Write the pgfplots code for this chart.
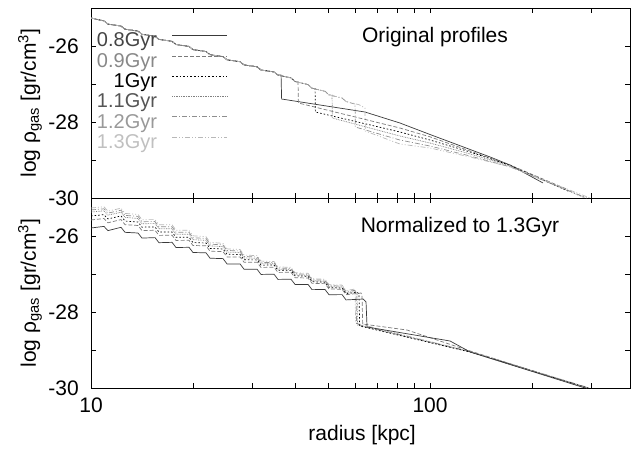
\documentclass[border=0pt]{standalone}
\usepackage{fontspec}
\setmainfont{Liberation Sans}
\usepackage{pgfplots}
\pgfplotsset{compat=1.18}
\newcommand{\fs}{\fontsize{21}{24}\selectfont}
\newcommand{\fl}{\fontsize{20}{23}\selectfont}
\definecolor{t08}{HTML}{444444}
\definecolor{t09}{HTML}{888888}
\definecolor{t11}{HTML}{555555}
\definecolor{t12}{HTML}{999999}
\definecolor{t13}{HTML}{C0C0C0}
\definecolor{l08}{HTML}{3A3A3A}
\definecolor{l09}{HTML}{7A7A7A}
\definecolor{l10}{HTML}{000000}
\definecolor{l11}{HTML}{808080}
\definecolor{l12}{HTML}{8E8E8E}
\definecolor{l13}{HTML}{B8B8B8}
\tikzset{
  s08/.style={color=l08, solid, line width=0.7pt},
  s09/.style={color=l09, dash pattern=on 4pt off 2pt, line width=0.7pt},
  s10/.style={color=l10, dash pattern=on 1.6pt off 2pt, line width=0.7pt},
  s11/.style={color=l11, dash pattern=on 0.8pt off 0.9pt, line width=0.7pt},
  s12/.style={color=l12, dash pattern=on 5pt off 2pt on 1pt off 2pt, line width=0.7pt},
  s13/.style={color=l13, dash pattern=on 5pt off 2pt on 1pt off 2pt on 1pt off 2pt, line width=0.7pt},
}
\begin{document}
\fs
\begin{tikzpicture}
% bottom panel
\begin{axis}[at={(0pt,0pt)}, anchor=south west,
    xmode=log, xmin=10, xmax=389, ymin=-30, ymax=-25,
    width=539pt, height=190pt, scale only axis,
    ytick={-30,-28,-26}, yticklabels={-30,-28,-26},
    minor ytick={-29,-27},
    xtick={10,100}, minor xtick={20,30,40,50,60,70,80,90,200,300},
    xtick pos=both, ytick pos=both, xticklabel pos=bottom, yticklabel pos=left,
    major tick length=5pt, minor tick length=5pt,
    tick style={black, line width=0.6pt},
    axis line style={line width=0.8pt},
    tick label style={font=\fs},
    yticklabel style={inner sep=0pt, xshift=-12pt},
    xticklabel style={inner sep=0pt, yshift=-10pt},
    label style={font=\fs},
    ylabel style={at={(rel axis cs:0,0.5)}, anchor=center, yshift=61pt},
  xticklabels={10,100},
  xlabel={radius [kpc]},
  xlabel style={at={(rel axis cs:0.503,0)}, anchor=center, yshift=-47pt},
  ylabel={log ρ\textsubscript{gas} [gr/cm\textsuperscript{3}]}]
\addplot[s13] coordinates {(10.00,-25.263)(10.92,-25.232)(11.22,-25.346)(12.26,-25.269)(12.60,-25.405)(13.76,-25.433)(14.14,-25.571)(15.44,-25.568)(15.87,-25.705)(17.34,-25.706)(17.81,-25.846)(19.46,-25.851)(19.99,-25.994)(21.84,-26.019)(22.44,-26.166)(24.51,-26.194)(25.19,-26.338)(27.51,-26.355)(28.27,-26.500)(30.89,-26.517)(31.73,-26.660)(34.66,-26.671)(35.61,-26.813)(38.90,-26.825)(39.99,-26.967)(43.67,-26.982)(44.87,-27.124)(49.01,-27.137)(50.36,-27.279)(55.01,-27.292)(56.52,-27.436)(59.6,-27.40)(60.1,-27.44)(60.3,-28.29)(131.3,-29.04)(296,-30)};
\addplot[s12] coordinates {(10.00,-25.315)(10.92,-25.284)(11.22,-25.398)(12.26,-25.321)(12.60,-25.457)(13.76,-25.485)(14.14,-25.623)(15.44,-25.620)(15.87,-25.757)(17.34,-25.758)(17.81,-25.898)(19.46,-25.903)(19.99,-26.044)(21.84,-26.066)(22.44,-26.212)(24.51,-26.237)(25.19,-26.380)(27.51,-26.394)(28.27,-26.538)(30.89,-26.552)(31.73,-26.693)(34.66,-26.701)(35.61,-26.842)(38.90,-26.852)(39.99,-26.993)(43.67,-27.009)(44.87,-27.151)(49.01,-27.163)(50.36,-27.305)(55.01,-27.318)(56.52,-27.463)(60.0,-27.43)(60.5,-27.47)(60.7,-28.32)(131.3,-29.04)(294,-30)};
\addplot[s11] coordinates {(10.00,-25.368)(10.92,-25.337)(11.22,-25.451)(12.26,-25.374)(12.60,-25.510)(13.76,-25.538)(14.14,-25.676)(15.44,-25.673)(15.87,-25.810)(17.34,-25.811)(17.81,-25.951)(19.46,-25.956)(19.99,-26.096)(21.84,-26.114)(22.44,-26.259)(24.51,-26.281)(25.19,-26.423)(27.51,-26.433)(28.27,-26.576)(30.89,-26.587)(31.73,-26.727)(34.66,-26.731)(35.61,-26.871)(38.90,-26.878)(39.99,-27.020)(43.67,-27.035)(44.87,-27.177)(49.01,-27.190)(50.36,-27.332)(55.01,-27.345)(56.52,-27.489)(60.3,-27.46)(60.9,-27.50)(61.1,-28.342)(131.3,-29.05)(292,-30)};
\addplot[s10] coordinates {(10.00,-25.473)(10.92,-25.438)(11.22,-25.551)(12.26,-25.471)(12.60,-25.606)(13.76,-25.631)(14.14,-25.767)(15.44,-25.761)(15.87,-25.897)(17.34,-25.894)(17.81,-26.033)(19.46,-26.034)(19.99,-26.172)(21.84,-26.184)(22.44,-26.327)(24.51,-26.341)(25.19,-26.481)(27.51,-26.485)(28.27,-26.626)(30.89,-26.629)(31.73,-26.767)(34.66,-26.764)(35.61,-26.902)(38.90,-26.904)(39.99,-27.046)(43.67,-27.061)(44.87,-27.203)(49.01,-27.216)(50.36,-27.358)(55.01,-27.371)(56.52,-27.515)(61.0,-27.48)(61.74,-27.53)(62.0,-28.368)(131.3,-29.053)(292,-30)};
\addplot[s09] coordinates {(10.00,-25.578)(10.92,-25.540)(11.22,-25.652)(12.26,-25.568)(12.60,-25.701)(13.76,-25.723)(14.14,-25.858)(15.44,-25.849)(15.87,-25.984)(17.34,-25.978)(17.81,-26.116)(19.46,-26.113)(19.99,-26.250)(21.84,-26.258)(22.44,-26.400)(24.51,-26.411)(25.19,-26.550)(27.51,-26.550)(28.27,-26.690)(30.89,-26.690)(31.73,-26.827)(34.66,-26.821)(35.61,-26.958)(38.90,-26.955)(39.99,-27.096)(43.67,-27.106)(44.87,-27.246)(49.01,-27.254)(50.36,-27.394)(55.01,-27.401)(56.52,-27.544)(62.6,-27.50)(63.0,-27.56)(63.3,-28.316)(85.5,-28.474)(131.3,-29.026)(290,-30)};
\addplot[s08] coordinates {(10.00,-25.789)(10.92,-25.747)(11.22,-25.858)(12.26,-25.771)(12.60,-25.903)(13.76,-25.921)(14.14,-26.055)(15.44,-26.042)(15.87,-26.176)(17.34,-26.166)(17.81,-26.303)(19.46,-26.297)(19.99,-26.434)(21.84,-26.442)(22.44,-26.584)(24.51,-26.595)(25.19,-26.734)(27.51,-26.734)(28.27,-26.874)(30.89,-26.874)(31.73,-27.011)(34.66,-27.005)(35.61,-27.142)(38.90,-27.137)(39.99,-27.274)(43.67,-27.274)(44.87,-27.411)(49.01,-27.408)(50.36,-27.545)(55.01,-27.542)(56.52,-27.682)(63.44,-27.658)(64.75,-27.737)(65.2,-28.395)(114.6,-28.763)(131.3,-29.053)(286.6,-30)};
\node[font=\fs] at (axis cs:122.6,-25.763) {Normalized to 1.3Gyr};
\end{axis}
% top panel
\begin{axis}[at={(0pt,190pt)}, anchor=south west,
    xmode=log, xmin=10, xmax=389, ymin=-30, ymax=-25,
    width=539pt, height=190pt, scale only axis,
    ytick={-30,-28,-26}, yticklabels={-30,-28,-26},
    minor ytick={-29,-27},
    xtick={10,100}, minor xtick={20,30,40,50,60,70,80,90,200,300},
    xtick pos=both, ytick pos=both, xticklabel pos=bottom, yticklabel pos=left,
    major tick length=5pt, minor tick length=5pt,
    tick style={black, line width=0.6pt},
    axis line style={line width=0.8pt},
    tick label style={font=\fs},
    yticklabel style={inner sep=0pt, xshift=-12pt},
    label style={font=\fs},
    ylabel style={at={(rel axis cs:0,0.5)}, anchor=center, yshift=61pt},
  xticklabels={},
  ylabel={log ρ\textsubscript{gas} [gr/cm\textsuperscript{3}]},
  legend style={draw=none, fill=none, at={(rel axis cs:0.254,0.880)}, anchor=north east,
    inner sep=0pt, row sep=-0.8pt, column sep=13pt, font=\fl},
  legend cell align=right,
  legend plot pos=right,
  legend image code/.code={\draw[#1] (0pt,6pt) -- (55pt,6pt);}]
\addplot[s08] coordinates {(10,-25.263)(10.92,-25.339)(11.22,-25.424)(12.26,-25.474)(12.60,-25.558)(13.76,-25.608)(14.14,-25.692)(15.44,-25.742)(15.87,-25.826)(17.34,-25.876)(17.81,-25.961)(19.46,-26.011)(19.99,-26.095)(21.84,-26.145)(22.44,-26.229)(24.51,-26.279)(25.19,-26.363)(27.51,-26.413)(28.27,-26.497)(30.89,-26.547)(31.73,-26.632)(34.66,-26.682)(35.61,-26.766)(36.36,-26.763)(36.5,-27.395)(64.3,-27.737)(81.5,-28.026)(100,-28.329)(114.6,-28.526)(150.4,-28.921)(172.2,-29.132)(215.4,-29.605)};
\addlegendentry[text=t08]{0.8Gyr}
\addplot[s09] coordinates {(10,-25.263)(10.92,-25.339)(11.22,-25.424)(12.26,-25.474)(12.60,-25.558)(13.76,-25.608)(14.14,-25.692)(15.44,-25.742)(15.87,-25.826)(17.34,-25.876)(17.81,-25.961)(19.46,-26.011)(19.99,-26.095)(21.84,-26.145)(22.44,-26.229)(24.51,-26.279)(25.19,-26.363)(27.51,-26.413)(28.27,-26.497)(30.89,-26.547)(31.73,-26.632)(34.66,-26.682)(35.61,-26.766)(38.90,-26.839)(39.99,-26.934)(40.8,-26.939)(40.9,-27.500)(81.5,-28.158)(100,-28.390)(150.4,-28.950)(172.2,-29.132)(252,-29.76)};
\addlegendentry[text=t09]{0.9Gyr}
\addplot[s10] coordinates {(10,-25.263)(10.92,-25.339)(11.22,-25.424)(12.26,-25.474)(12.60,-25.558)(13.76,-25.608)(14.14,-25.692)(15.44,-25.742)(15.87,-25.826)(17.34,-25.876)(17.81,-25.961)(19.46,-26.011)(19.99,-26.095)(21.84,-26.145)(22.44,-26.229)(24.51,-26.279)(25.19,-26.363)(27.51,-26.413)(28.27,-26.497)(30.89,-26.547)(31.73,-26.632)(34.66,-26.682)(35.61,-26.766)(38.90,-26.839)(39.99,-26.934)(43.67,-27.016)(44.87,-27.111)(45.8,-27.116)(45.9,-27.737)(81.5,-28.263)(100,-28.474)(131.3,-28.79)(172.2,-29.14)(258.8,-29.84)};
\addlegendentry[text=black]{1Gyr}
\addplot[s11] coordinates {(10,-25.263)(10.92,-25.339)(11.22,-25.424)(12.26,-25.474)(12.60,-25.558)(13.76,-25.608)(14.14,-25.692)(15.44,-25.742)(15.87,-25.826)(17.34,-25.876)(17.81,-25.961)(19.46,-26.011)(19.99,-26.095)(21.84,-26.145)(22.44,-26.229)(24.51,-26.279)(25.19,-26.363)(27.51,-26.413)(28.27,-26.497)(30.89,-26.547)(31.73,-26.632)(34.66,-26.682)(35.61,-26.766)(38.90,-26.839)(39.99,-26.934)(43.67,-27.016)(44.87,-27.111)(49.01,-27.192)(50.36,-27.287)(51.4,-27.289)(51.5,-27.895)(81.5,-28.368)(100,-28.553)(131.3,-28.84)(172.2,-29.158)(286.6,-30)};
\addlegendentry[text=t11]{1.1Gyr}
\addplot[s12] coordinates {(10,-25.263)(10.92,-25.339)(11.22,-25.424)(12.26,-25.474)(12.60,-25.558)(13.76,-25.608)(14.14,-25.692)(15.44,-25.742)(15.87,-25.826)(17.34,-25.876)(17.81,-25.961)(19.46,-26.011)(19.99,-26.095)(21.84,-26.145)(22.44,-26.229)(24.51,-26.279)(25.19,-26.363)(27.51,-26.413)(28.27,-26.497)(30.89,-26.547)(31.73,-26.632)(34.66,-26.682)(35.61,-26.766)(38.90,-26.839)(39.99,-26.934)(43.67,-27.016)(44.87,-27.111)(49.01,-27.192)(50.36,-27.287)(55.01,-27.368)(56.52,-27.461)(60.1,-27.529)(60.2,-28.132)(81.5,-28.474)(100,-28.632)(131.3,-28.895)(172.2,-29.18)(290,-30)};
\addlegendentry[text=t12]{1.2Gyr}
\addplot[s13] coordinates {(10,-25.263)(10.92,-25.339)(11.22,-25.424)(12.26,-25.474)(12.60,-25.558)(13.76,-25.608)(14.14,-25.692)(15.44,-25.742)(15.87,-25.826)(17.34,-25.876)(17.81,-25.961)(19.46,-26.011)(19.99,-26.095)(21.84,-26.145)(22.44,-26.229)(24.51,-26.279)(25.19,-26.363)(27.51,-26.413)(28.27,-26.497)(30.89,-26.547)(31.73,-26.632)(34.66,-26.682)(35.61,-26.766)(38.90,-26.839)(39.99,-26.934)(43.67,-27.016)(44.87,-27.111)(49.01,-27.192)(50.36,-27.287)(55.01,-27.368)(56.52,-27.461)(61.74,-27.545)(64.3,-27.632)(64.4,-28.237)(81.5,-28.579)(100,-28.684)(131.3,-28.921)(172.2,-29.18)(296.5,-30)};
\addlegendentry[text=t13]{1.3Gyr}
\node[font=\fs] at (axis cs:103.4,-25.763) {Original profiles};
\end{axis}
\pgfresetboundingbox
\path (-91pt,-63pt) rectangle (540pt,388pt);
\end{tikzpicture}
\end{document}
